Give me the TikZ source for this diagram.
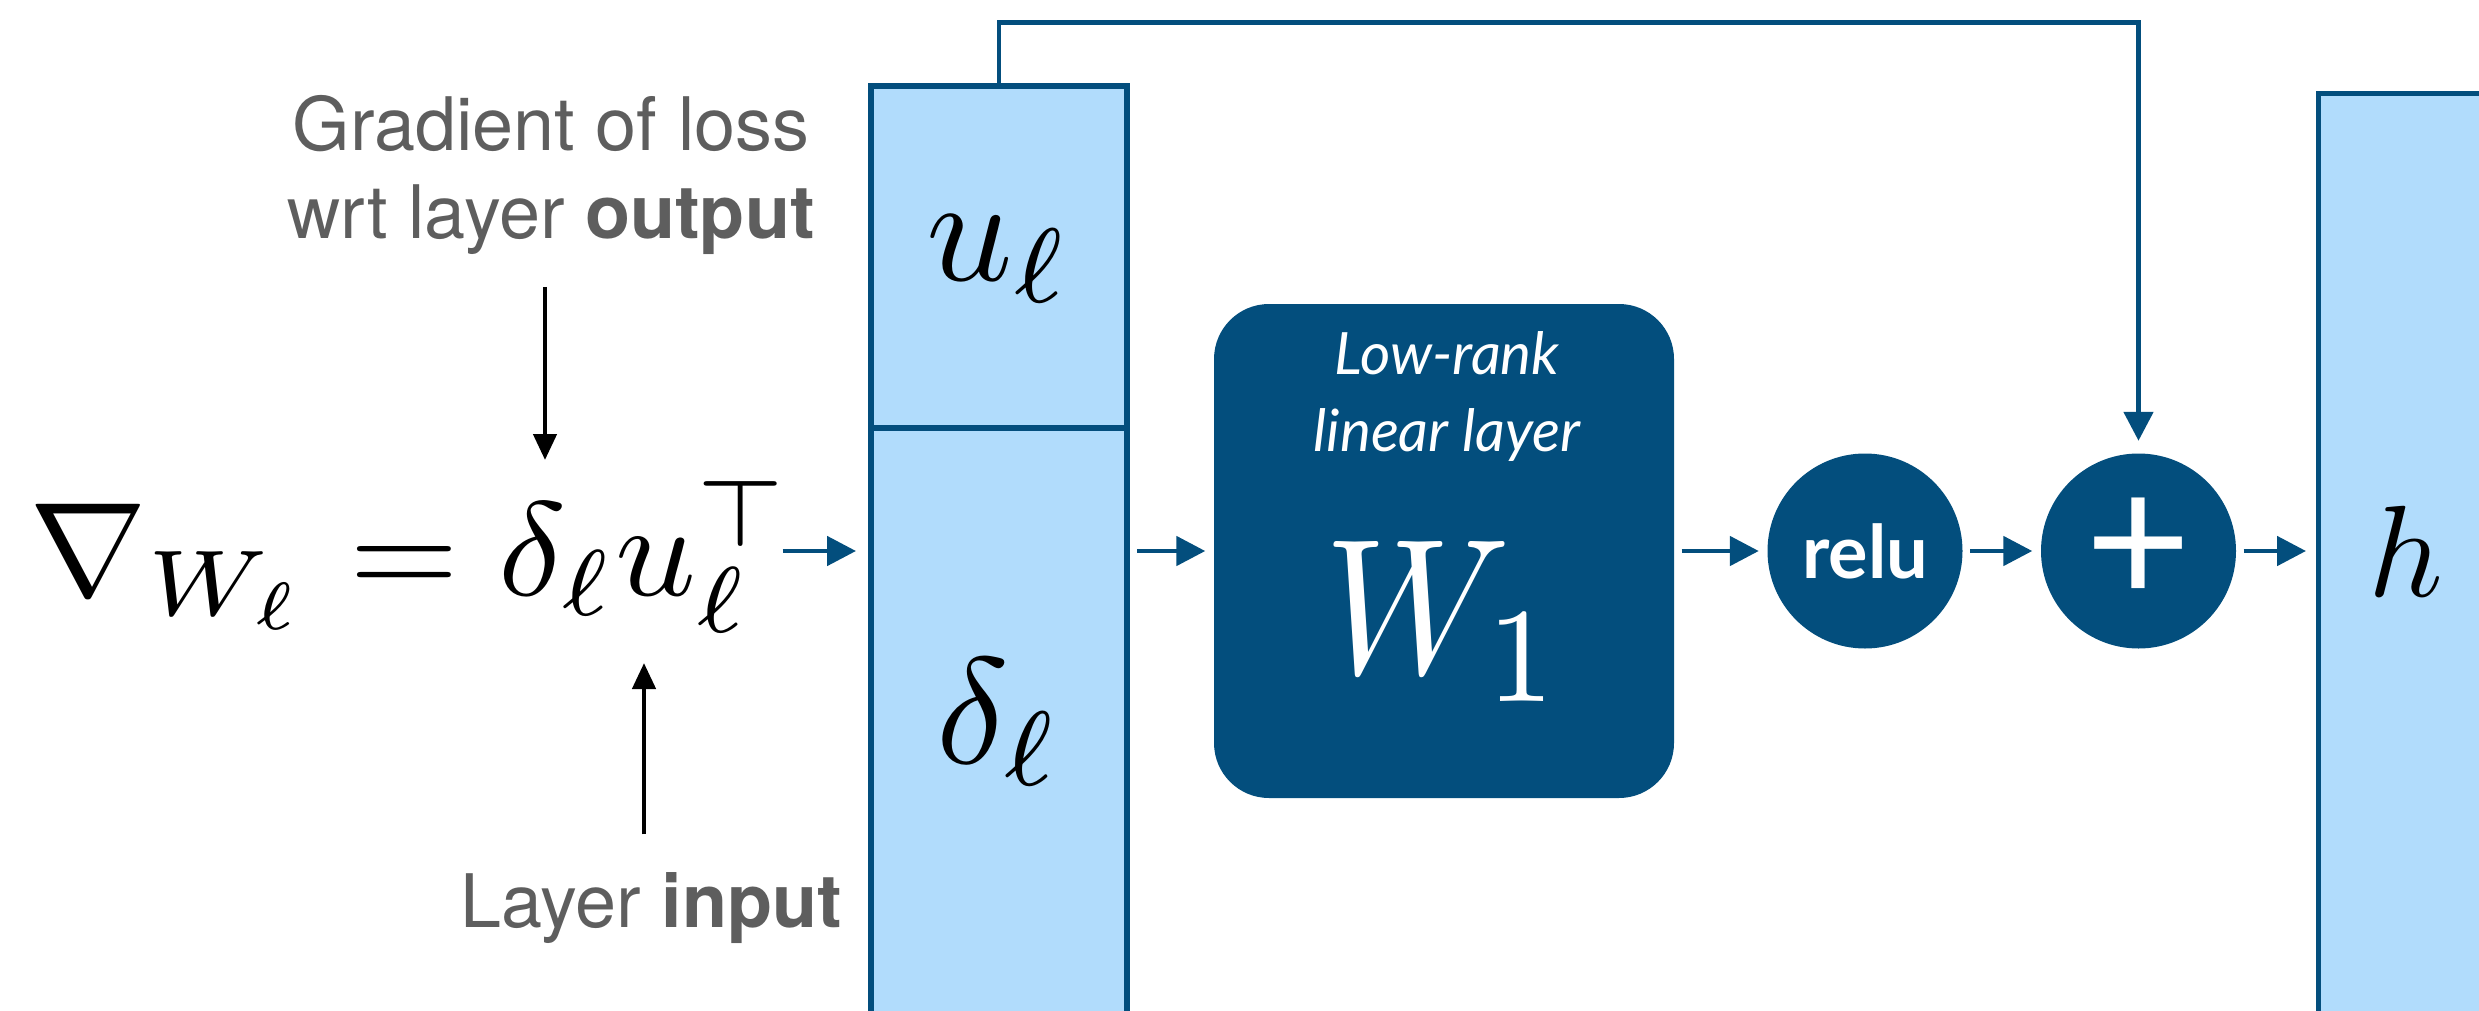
\documentclass[tikz,border=0pt]{standalone}
\usepackage{graphicx}
\usepackage{fontspec}
\setsansfont{TeX Gyre Heros}
\newfontfamily\latofont{Lato}
\usetikzlibrary{calc,positioning,arrows.meta}
\definecolor{deepblue}{HTML}{034E7D}
\definecolor{paleblue}{HTML}{B1DCFC}
\definecolor{labelgray}{HTML}{5E5E5E}

\begin{document}
\begin{tikzpicture}[
  stackbox/.style={draw=deepblue,fill=paleblue,line width=1.7pt,minimum width=2.56cm},
  flow/.style={-{Triangle[length=0.29cm,width=0.29cm]},deepblue,line width=1.4pt,shorten <=0.07cm,shorten >=0.08cm},
  pointer/.style={-{Triangle[length=0.26cm,width=0.23cm]},black,line width=1.3pt},
  opnode/.style={circle,fill=deepblue,text=white,minimum size=1.95cm,inner sep=0pt},
  note/.style={text=labelgray,font=\sffamily\fontsize{21}{25.3}\selectfont,align=center,inner sep=0pt}]
\useasboundingbox (0,0) rectangle (24.79,-10.10);

% stacked input column
\node[stackbox,minimum height=3.42cm] (ubox) at (9.99,-2.57) {};
\node[stackbox,minimum height=6.12cm] (dbox) at (9.99,-7.34) {};
\node[anchor=base,inner sep=0pt] (ulbl) at (9.99,-2.80) {\scalebox{4.3}{$u_\ell$}};
\node[anchor=base,inner sep=0pt] (dlbl) at (9.99,-7.63) {\scalebox{4.3}{$\delta_\ell$}};

% layer, nonlinearity, sum, output
\node[rounded corners=0.55cm,fill=deepblue,minimum width=4.6cm,minimum height=4.94cm] (wbox) at (14.44,-5.51) {};
\node[text=white,inner sep=0pt,align=center,font=\latofont\itshape\fontsize{16.6}{22}\selectfont]
  (wcap) at (14.47,-3.965) {Low-rank\\linear layer};
\node[text=white,anchor=base,inner sep=0pt] (wsym) at (14.44,-6.73) {\scalebox{4.9}[5.5]{$W_1$}};
\node[opnode,font=\latofont\bfseries\fontsize{21}{24}\selectfont] (relu) at (18.65,-5.51) {relu};
\node[opnode,font=\latofont\fontsize{52}{52}\selectfont] (plus) at (21.385,-5.51) {+};
\node[stackbox,line width=1.5pt,minimum width=2.2cm,minimum height=9.6cm,anchor=north west] (hbox) at (23.16,-0.91) {};
\node[anchor=base,inner sep=0pt] (hlbl) at (24.06,-5.96) {\scalebox{3.7}{$h$}};

% gradient formula and its labels
\node[anchor=base west,inner sep=0pt] (grad) at (0.29,-5.95)
  {\scalebox{4.02}[3.8]{$\nabla_{W_\ell} = \delta_\ell u_\ell^\top$}};
\node[note] (outlbl) at (5.51,-1.75) {Gradient of loss\\wrt layer \textbf{output}};
\node[note] (inlbl) at (6.515,-9.085) {Layer \textbf{input}};
\coordinate (dtip) at (5.45,-4.60);
\coordinate (utip) at (6.44,-6.63);
\draw[pointer,shorten <=0.31cm] (dtip |- outlbl.south) -- (dtip);
\draw[pointer,shorten <=0.38cm] (utip |- inlbl.north) -- (utip);

% connectors
\draw[flow,shorten <=-0.1cm,shorten >=0.12cm] (grad.east |- wbox.west) -- (dbox.west |- wbox.west);
\draw[flow] (dbox.east |- wbox.west) -- (wbox.west);
\draw[flow] (wbox.east) -- (relu.west);
\draw[flow] (relu.east) -- (plus.west);
\draw[flow,shorten >=0.1cm] (plus.east) -- (hbox.west |- plus.east);
\coordinate (skiptop) at (21.385,-0.225);
\draw[flow,shorten <=0pt,shorten >=0.12cm] (ubox.north) |- (skiptop) -- (plus.north);
\end{tikzpicture}
\end{document}
